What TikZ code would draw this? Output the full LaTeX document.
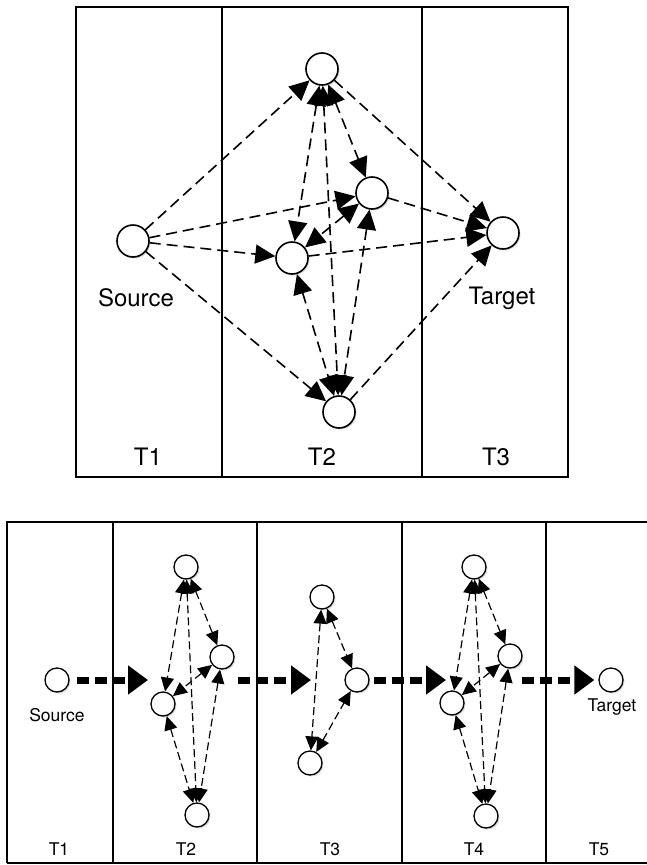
\documentclass[tikz,border=0pt]{standalone}
\usepackage{fontspec}
\setmainfont{TeX Gyre Heros}
\usetikzlibrary{arrows.meta,shadows}

\begin{document}
\begin{tikzpicture}[
    x=1pt, y=-1pt,
    state/.style={
      circle,
      draw=black,
      line width=1.6pt,
      fill=white,
      minimum size=32pt,
      inner sep=0pt,
      drop shadow={opacity=0.3, shadow xshift=1.5pt, shadow yshift=-1.5pt}
    },
    sstate/.style={state, minimum size=24pt, line width=1.3pt},
    link/.style={line width=1.6pt, dash pattern=on 11pt off 6pt,
      -{Triangle[length=20pt,width=19pt]}},
    link2/.style={link, {Triangle[length=20pt,width=19pt]}-{Triangle[length=20pt,width=19pt]}},
    slink2/.style={line width=1.2pt, dash pattern=on 8pt off 4pt,
      {Triangle[length=14pt,width=13pt]}-{Triangle[length=14pt,width=13pt]}},
    jump/.style={line width=7pt, dash pattern=on 12pt off 6pt,
      -{Triangle[length=20pt,width=28pt]}},
    lane/.style={line width=1.6pt},
    big/.style={font=\fontsize{24}{28}\selectfont},
    little/.style={font=\fontsize{17.5}{21}\selectfont}
]

\clip (0,0) rectangle (647,865);

\draw[lane] (76,7) rectangle (568,477);
\draw[lane] (222,7) -- (222,477);
\draw[lane] (422,7) -- (422,477);

\node[big] (t1) at (148,457) {T1};
\node[big] (t2) at (322,457) {T2};
\node[big] (t3) at (496,457) {T3};

\node[state] (src) at (133,241) {};
\node[state] (up) at (322,69) {};
\node[state] (mr) at (372,193) {};
\node[state] (ml) at (292,258) {};
\node[state] (dn) at (339,412) {};
\node[state] (tgt) at (503,233) {};

\node[big] (srclbl) at (136,298) {Source};
\node[big] (tgtlbl) at (502,298) {Target};

\draw[link] (src) -- (up);
\draw[link] (src) -- (mr);
\draw[link] (src) -- (ml);
\draw[link] (src) -- (dn);

\draw[link2] (up) -- (mr);
\draw[link2] (up) -- (ml);
\draw[link2] (up) -- (dn);
\draw[link2] (mr) -- (ml);
\draw[link2] (mr) -- (dn);
\draw[link2] (ml) -- (dn);

\draw[link] (up) -- (tgt);
\draw[link] (mr) -- (tgt);
\draw[link] (ml) -- (tgt);
\draw[link] (dn) -- (tgt);

\draw[lane] (7,863) -- (7,522) -- (660,522);
\draw[lane] (7,863) -- (660,863);
\draw[lane] (113,522) -- (113,863);
\draw[lane] (257,522) -- (257,863);
\draw[lane] (402,522) -- (402,863);
\draw[lane] (546,522) -- (546,863);

\node[little] (s1) at (59,849) {T1};
\node[little] (s2) at (186,849) {T2};
\node[little] (s3) at (330,849) {T3};
\node[little] (s4) at (474,849) {T4};
\node[little] (s5) at (599,849) {T5};

\node[sstate] (src5) at (57,680) {};
\node[little] (src5lbl) at (57,715) {Source};

\node[sstate] (up2) at (186,567) {};
\node[sstate] (mr2) at (222,657) {};
\node[sstate] (ml2) at (163,704) {};
\node[sstate] (dn2) at (197,815) {};

\node[sstate] (up3) at (322,597) {};
\node[sstate] (r3) at (357,680) {};
\node[sstate] (dn3) at (310,763) {};

\node[sstate] (up4) at (474,567) {};
\node[sstate] (mr4) at (510,656) {};
\node[sstate] (ml4) at (452,703) {};
\node[sstate] (dn4) at (486,816) {};

\node[sstate] (tgt5) at (611,680) {};
\node[little] (tgt5lbl) at (612,707) {Target};

\draw[slink2] (up2) -- (mr2);
\draw[slink2] (up2) -- (ml2);
\draw[slink2] (up2) -- (dn2);
\draw[slink2] (mr2) -- (ml2);
\draw[slink2] (mr2) -- (dn2);
\draw[slink2] (ml2) -- (dn2);

\draw[slink2] (up3) -- (r3);
\draw[slink2] (up3) -- (dn3);
\draw[slink2] (dn3) -- (r3);

\draw[slink2] (up4) -- (mr4);
\draw[slink2] (up4) -- (ml4);
\draw[slink2] (up4) -- (dn4);
\draw[slink2] (mr4) -- (ml4);
\draw[slink2] (mr4) -- (dn4);
\draw[slink2] (ml4) -- (dn4);

\coordinate (in2) at (148,680);
\coordinate (out2) at (238,680);
\coordinate (in3) at (311,680);
\coordinate (in4) at (446,680);
\coordinate (out4) at (522,680);

\draw[jump, shorten <=7pt] (src5) -- (in2);
\draw[jump] (out2) -- (in3);
\draw[jump, shorten <=4pt] (r3) -- (in4);
\draw[jump, shorten >=4pt] (out4) -- (tgt5);

\end{tikzpicture}
\end{document}
